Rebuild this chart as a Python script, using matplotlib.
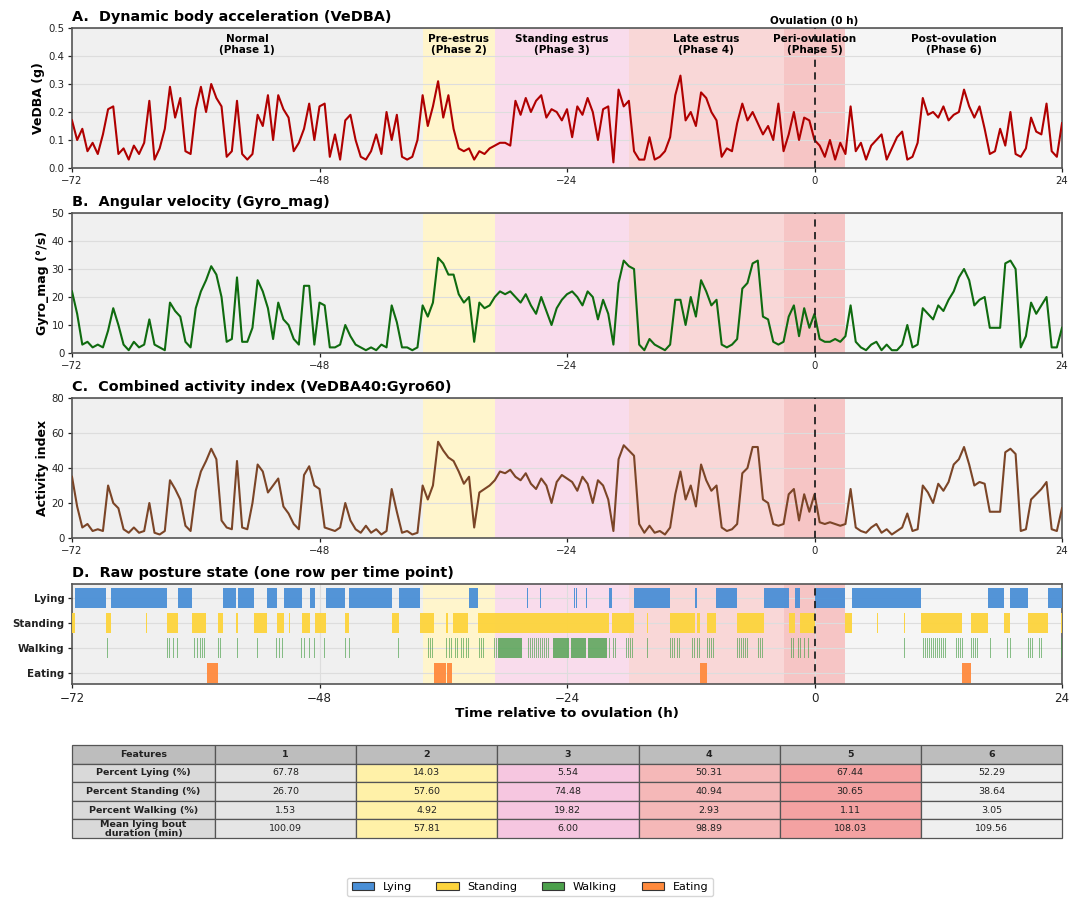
import matplotlib
matplotlib.use('Agg')
import matplotlib.pyplot as plt
import matplotlib.transforms as mtransforms
from matplotlib.patches import Patch
import numpy as np

plt.rcParams['font.family'] = ['DejaVu Sans']

# ---------------- data ----------------
time_start, time_end, time_step = -72.0, 24.0, 0.5

vedba = [0.17, 0.10, 0.14, 0.06, 0.09, 0.05, 0.12, 0.21, 0.22, 0.05,
         0.07, 0.03, 0.08, 0.05, 0.09, 0.24, 0.03, 0.07, 0.14, 0.29,
         0.18, 0.25, 0.06, 0.05, 0.21, 0.29, 0.20, 0.30, 0.25, 0.22,
         0.04, 0.06, 0.24, 0.05, 0.03, 0.05, 0.19, 0.15, 0.26, 0.10,
         0.26, 0.21, 0.18, 0.06, 0.09, 0.14, 0.23, 0.10, 0.22, 0.23,
         0.04, 0.12, 0.03, 0.17, 0.19, 0.10, 0.04, 0.03, 0.06, 0.12,
         0.05, 0.20, 0.10, 0.19, 0.04, 0.03, 0.04, 0.10, 0.26, 0.15,
         0.22, 0.31, 0.18, 0.26, 0.14, 0.07, 0.06, 0.07, 0.03, 0.06,
         0.05, 0.07, 0.08, 0.09, 0.09, 0.08, 0.24, 0.19, 0.25, 0.20,
         0.24, 0.26, 0.18, 0.21, 0.20, 0.17, 0.21, 0.11, 0.22, 0.19,
         0.25, 0.20, 0.10, 0.21, 0.22, 0.02, 0.28, 0.22, 0.24, 0.06,
         0.03, 0.03, 0.11, 0.03, 0.04, 0.06, 0.11, 0.26, 0.33, 0.17,
         0.20, 0.15, 0.27, 0.25, 0.20, 0.17, 0.04, 0.07, 0.06, 0.16,
         0.23, 0.17, 0.20, 0.16, 0.12, 0.15, 0.10, 0.23, 0.06, 0.12,
         0.20, 0.10, 0.18, 0.17, 0.10, 0.08, 0.04, 0.10, 0.03, 0.09,
         0.05, 0.22, 0.06, 0.09, 0.03, 0.08, 0.10, 0.12, 0.03, 0.07,
         0.11, 0.13, 0.03, 0.04, 0.09, 0.25, 0.19, 0.20, 0.18, 0.22,
         0.17, 0.19, 0.20, 0.28, 0.22, 0.18, 0.22, 0.14, 0.05, 0.06,
         0.14, 0.08, 0.20, 0.05, 0.04, 0.07, 0.18, 0.13, 0.12, 0.23,
         0.06, 0.04, 0.16]

gyro = [22, 14, 3, 4, 2, 3, 2, 8, 16, 10,
        3, 1, 4, 2, 3, 12, 3, 2, 1, 18,
        15, 13, 4, 2, 16, 22, 26, 31, 28, 20,
        4, 5, 27, 4, 4, 9, 26, 22, 16, 5,
        18, 12, 10, 5, 3, 24, 24, 3, 18, 17,
        2, 2, 3, 10, 6, 3, 2, 1, 2, 1,
        3, 2, 17, 11, 2, 2, 1, 2, 17, 13,
        18, 34, 32, 28, 28, 21, 18, 20, 4, 18,
        16, 17, 20, 22, 21, 22, 20, 18, 21, 17,
        14, 20, 15, 10, 16, 19, 21, 22, 20, 17,
        22, 20, 12, 19, 14, 3, 25, 33, 31, 30,
        3, 1, 5, 3, 2, 1, 3, 19, 19, 10,
        20, 13, 26, 22, 17, 19, 3, 2, 3, 5,
        23, 25, 32, 33, 13, 12, 4, 3, 4, 13,
        17, 6, 16, 9, 14, 5, 4, 4, 5, 4,
        6, 17, 4, 2, 1, 3, 4, 1, 3, 1,
        1, 3, 10, 2, 3, 16, 14, 12, 17, 15,
        19, 22, 27, 30, 26, 17, 19, 20, 9, 9,
        9, 32, 33, 30, 2, 6, 18, 14, 17, 20,
        2, 2, 9]

activity = [35, 18, 6, 8, 4, 5, 4, 30, 20, 17,
            5, 3, 6, 3, 4, 20, 3, 2, 4, 33,
            28, 22, 7, 4, 27, 38, 44, 51, 45, 10,
            6, 5, 44, 6, 5, 20, 42, 38, 26, 30,
            34, 18, 14, 8, 5, 36, 41, 30, 28, 6,
            5, 4, 6, 20, 10, 5, 3, 7, 3, 5,
            2, 4, 28, 15, 3, 4, 2, 3, 30, 22,
            30, 55, 50, 46, 44, 38, 31, 35, 6, 26,
            28, 30, 33, 38, 37, 39, 35, 33, 37, 31,
            28, 34, 30, 20, 32, 36, 34, 32, 27, 35,
            31, 20, 33, 30, 22, 4, 45, 53, 50, 47,
            8, 3, 7, 3, 4, 2, 6, 25, 38, 22,
            30, 18, 42, 33, 27, 30, 6, 4, 5, 8,
            37, 40, 52, 52, 22, 20, 8, 7, 8, 25,
            28, 10, 25, 15, 25, 9, 8, 9, 8, 7,
            8, 28, 6, 4, 3, 6, 8, 3, 5, 2,
            4, 6, 14, 4, 5, 30, 26, 20, 31, 27,
            32, 42, 45, 52, 42, 30, 32, 31, 15, 15,
            15, 49, 51, 48, 4, 5, 22, 25, 28, 32,
            5, 4, 17]

phase_bounds = [-72, -38, -31, -18, -3, 3, 24]
phase_names = ['Normal\n(Phase 1)', 'Pre-estrus\n(Phase 2)', 'Standing estrus\n(Phase 3)',
               'Late estrus\n(Phase 4)', 'Peri-ovulation\n(Phase 5)', 'Post-ovulation\n(Phase 6)']
phase_colors = ['#f0f0f0', '#fff5cc', '#f9dcec', '#f9d7d7', '#f6c5c5', '#f5f5f5']

# posture runs (start_h, end_h)
lying_runs = [(-71.7, -68.7), (-68.2, -62.8), (-61.7, -60.4), (-57.4, -56.1), (-55.9, -54.4),
              (-53.1, -52.1), (-51.4, -49.7), (-48.9, -48.4), (-47.4, -45.5), (-45.1, -41.0),
              (-40.3, -38.3), (-33.5, -32.6), (-27.85, -27.75), (-26.65, -26.55), (-23.3, -23.2),
              (-23.1, -23.0), (-22.15, -22.05), (-19.9, -19.6), (-17.5, -14.0), (-11.6, -11.4),
              (-9.6, -7.5), (-4.9, -2.5), (-1.9, -1.4), (0.0, 3.0), (3.6, 10.3), (16.8, 18.4),
              (19.0, 20.7), (22.6, 24.0)]
standing_runs = [(-72.0, -71.7), (-68.7, -68.2), (-64.85, -64.75), (-62.8, -61.7), (-60.4, -59.0),
                 (-57.8, -57.4), (-56.1, -55.9), (-54.4, -53.1), (-52.1, -51.4), (-50.95, -50.85),
                 (-49.7, -48.9), (-48.4, -47.4), (-45.5, -45.1), (-41.0, -40.3), (-38.3, -36.9),
                 (-35.7, -35.5), (-35.1, -33.6), (-32.6, -19.9), (-19.6, -17.5), (-16.25, -16.15),
                 (-14.0, -11.6), (-11.4, -11.1), (-10.4, -9.6), (-7.5, -4.9), (-2.5, -1.9),
                 (-1.4, 0.0), (3.0, 3.6), (6.05, 6.15), (8.65, 8.75), (10.3, 14.3), (15.2, 16.8),
                 (18.4, 19.0), (20.7, 22.6), (23.92, 24.0)]
eating_runs = [(-58.9, -57.8), (-36.9, -35.75), (-35.6, -35.15), (-11.1, -10.4), (14.3, 15.2)]
walking_dense_runs = [(-30.7, -28.4), (-25.4, -23.8), (-23.6, -22.2), (-22.0, -20.1)]
walking_ticks = [-68.6, -68.45, -62.8, -62.6, -62.2, -61.8, -60.3, -60.15, -59.9, -59.6, -59.4,
                 -59.2, -59.05, -57.8, -57.65, -56.0, -54.4, -54.2, -54.05, -53.8, -53.6, -52.2,
                 -52.05, -51.9, -51.6, -50.8, -49.8, -49.5, -49.15, -49.0, -48.5, -47.8, -47.55,
                 -45.5, -45.1, -41.1, -40.4, -38.2, -38.0, -37.8, -37.5, -37.3, -37.1, -35.7,
                 -35.4, -35.2, -35.0, -34.85, -34.65, -34.5, -34.3, -34.05, -33.8, -33.6, -32.5,
                 -32.3, -32.1, -31.9, -31.7, -31.5, -31.3, -31.1, -30.9, -28.2, -28.0, -27.8,
                 -27.6, -27.4, -27.2, -27.0, -26.8, -26.6, -26.4, -26.2, -26.0, -25.8, -25.6,
                 -19.9, -19.5, -19.3, -19.1, -18.9, -18.7, -18.5, -18.3, -18.1, -17.9, -17.7,
                 -16.2, -14.0, -13.8, -13.6, -13.3, -13.1, -12.5, -12.3, -12.1, -11.9, -11.7,
                 -11.4, -11.2, -10.4, -10.2, -10.0, -9.8, -9.6, -7.5, -7.3, -7.1, -6.9, -6.7,
                 -6.5, -6.3, -6.1, -5.9, -5.7, -5.5, -5.3, -5.1, -2.5, -2.3, -2.1, -1.6, -1.4,
                 -1.0, -0.6, 3.3, 3.5, 8.7, 10.3, 10.5, 10.7, 10.9, 11.1, 11.3, 11.5, 11.7,
                 11.9, 12.1, 12.3, 12.5, 12.7, 12.9, 13.1, 13.3, 13.5, 13.7, 13.9, 14.1, 14.3,
                 15.2, 15.4, 15.6, 15.8, 16.0, 16.8, 17.0, 18.7, 19.0, 20.7, 20.9, 21.1, 21.8,
                 22.0, 22.4, 22.6, 23.95]

posture_labels = ['Lying', 'Standing', 'Walking', 'Eating']
posture_colors = ['#4a8fd6', '#fdd43c', '#4ca04c', '#ff8a3d']

# table
table_header = ['Features', '1', '2', '3', '4', '5', '6']
feature_names = ['Percent Lying (%)', 'Percent Standing (%)', 'Percent Walking (%)',
                 'Mean lying bout\nduration (min)']
pct_lying = [67.78, 14.03, 5.54, 50.31, 67.44, 52.29]
pct_standing = [26.70, 57.60, 74.48, 40.94, 30.65, 38.64]
pct_walking = [1.53, 4.92, 19.82, 2.93, 1.11, 3.05]
bout_duration = [100.09, 57.81, 6.00, 98.89, 108.03, 109.56]
table_phase_colors = ['#e5e5e5', '#fff1a8', '#f6c6e0', '#f5b8b8', '#f4a2a2', '#efefef']

xticks = [-72, -48, -24, 0, 24]

# ---------------- figure ----------------
FW, FH = 1084, 910
fig = plt.figure(figsize=(FW / 100, FH / 100), dpi=100)
fig.patch.set_facecolor('white')


def rect(top, bot, left=72, right=1062):
    return [left / FW, 1 - bot / FH, (right - left) / FW, (bot - top) / FH]


def base_style(ax, tick_size=7.3):
    for i in range(6):
        ax.axvspan(phase_bounds[i], phase_bounds[i + 1], color=phase_colors[i], lw=0, zorder=0)
    ax.axvline(0, color='#222222', ls=(0, (4, 3)), lw=1.3, zorder=6)
    ax.set_xlim(-72, 24)
    ax.set_xticks(xticks)
    ax.set_axisbelow(True)
    for s in ax.spines.values():
        s.set_color('#555555')
        s.set_linewidth(1.2)
    ax.tick_params(labelsize=tick_size, colors='#222222', length=3, width=0.9, pad=2.5)


time_h = np.arange(time_start, time_end + time_step / 2, time_step)

panels = [
    ('A.  Dynamic body acceleration (VeDBA)', vedba, '#b00000', 'VeDBA (g)', (0, 0.5),
     [0.0, 0.1, 0.2, 0.3, 0.4, 0.5], (28, 168)),
    ('B.  Angular velocity (Gyro_mag)', gyro, '#0f6b0f', 'Gyro_mag (°/s)', (0, 50),
     [0, 10, 20, 30, 40, 50], (213, 353)),
    ('C.  Combined activity index (VeDBA40:Gyro60)', activity, '#7b4527', 'Activity index',
     (0, 80), [0, 20, 40, 60, 80], (398, 538)),
]

for k, (title, series, col, ylab, ylim, yt, (top, bot)) in enumerate(panels):
    ax = fig.add_axes(rect(top, bot))
    base_style(ax)
    ax.grid(axis='y', color='#dddddd', lw=0.8)
    ax.plot(time_h, series, color=col, lw=1.5, zorder=4)
    ax.set_ylim(*ylim)
    ax.set_yticks(yt)
    if k == 0:
        ax.set_yticklabels([f'{v:.1f}' for v in yt])
    ax.set_ylabel(ylab, fontsize=9, fontweight='bold', labelpad=2)
    ax.set_title(title, loc='left', fontsize=10.4, fontweight='bold', pad=5)
    if k == 0:
        trans = mtransforms.blended_transform_factory(ax.transData, ax.transAxes)
        for i, name in enumerate(phase_names):
            cx = (phase_bounds[i] + phase_bounds[i + 1]) / 2
            ax.text(cx, 0.885, name, transform=trans, ha='center', va='center',
                    fontsize=7.5, fontweight='bold', linespacing=1.15, zorder=7)
        ax.text(0, 1.05, 'Ovulation (0 h)', transform=trans, ha='center', va='center',
                fontsize=7.5, fontweight='bold')

# ---- panel D ----
axD = fig.add_axes(rect(584, 684))
base_style(axD, tick_size=8.6)
axD.grid(True, color='#dddddd', lw=0.8)
row_y = {'Lying': 3, 'Standing': 2, 'Walking': 1, 'Eating': 0}
bar_h = 0.8
for runs, lab, col in [(lying_runs, 'Lying', posture_colors[0]),
                       (standing_runs, 'Standing', posture_colors[1]),
                       (eating_runs, 'Eating', posture_colors[3])]:
    axD.broken_barh([(a, b - a) for a, b in runs], (row_y[lab] - bar_h / 2, bar_h),
                    facecolors=col, edgecolor='none', alpha=0.95, zorder=3)
axD.broken_barh([(a, b - a) for a, b in walking_dense_runs], (1 - bar_h / 2, bar_h),
                facecolors=posture_colors[2], edgecolor='none', alpha=0.8, zorder=3)
axD.broken_barh([(t, 0.07) for t in walking_ticks], (1 - bar_h / 2, bar_h),
                facecolors=posture_colors[2], edgecolor='none', alpha=0.65, zorder=3)
axD.set_ylim(-0.44, 3.56)
axD.set_yticks([row_y[l] for l in posture_labels])
axD.set_yticklabels(posture_labels, fontsize=7.4, fontweight='bold')
axD.set_title('D.  Raw posture state (one row per time point)', loc='left', fontsize=10.4,
              fontweight='bold', pad=5)
axD.set_xlabel('Time relative to ovulation (h)', fontsize=9.7, fontweight='bold', labelpad=2)

# ---- table ----
axT = fig.add_axes(rect(745, 838))
axT.axis('off')
rows = [pct_lying, pct_standing, pct_walking, bout_duration]
cell_text = [[feature_names[r]] + [f'{v:.2f}' for v in rows[r]] for r in range(4)]
first_w = 143 / 990
other_w = (1 - first_w) / 6
tbl = axT.table(cellText=cell_text, colLabels=table_header, cellLoc='center',
                bbox=[0, 0, 1, 1], colWidths=[first_w] + [other_w] * 6)
tbl.auto_set_font_size(False)
for (r, c), cell in tbl.get_celld().items():
    cell.set_edgecolor('#555555')
    cell.set_linewidth(0.9)
    cell.get_text().set_fontsize(6.8)
    cell.get_text().set_color('#222222')
    if r == 0:
        cell.set_facecolor('#bdbdbd')
        cell.get_text().set_fontweight('bold')
    elif c == 0:
        cell.set_facecolor('#d9d9d9')
        cell.get_text().set_fontweight('bold')
        cell.get_text().set_linespacing(0.95)
    else:
        cell.set_facecolor(table_phase_colors[c - 1])

# ---- legend ----
handles = [Patch(facecolor=c, edgecolor='#333333', lw=0.8, label=l)
           for l, c in zip(posture_labels, posture_colors)]
fig.legend(handles=handles, loc='center', bbox_to_anchor=(530 / FW, 1 - 887 / FH), ncol=4,
           fontsize=8, frameon=True, edgecolor='#cccccc', fancybox=True, handlelength=2.0,
           columnspacing=2.2)

fig.savefig('out.png', dpi=100)
